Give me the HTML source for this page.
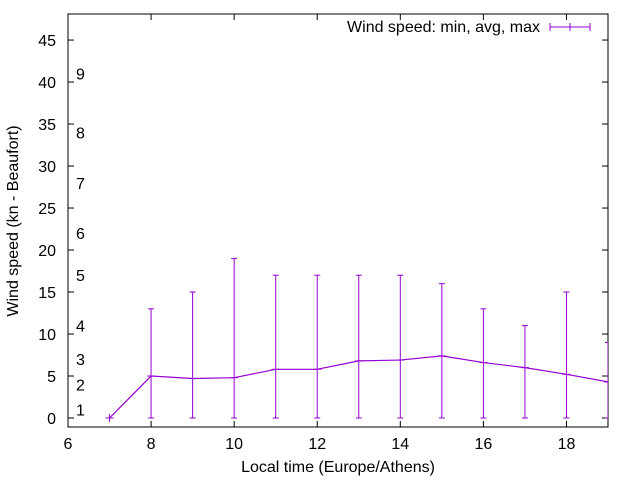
<!DOCTYPE html>
<html><head><meta charset="utf-8"><style>
body{margin:0;background:#fff;}
svg{display:block;font-family:"Liberation Sans",sans-serif;}
</style></head><body>
<svg id="chart" width="640" height="480" viewBox="0 0 640 480" xmlns="http://www.w3.org/2000/svg">
<rect width="640" height="480" fill="#fff"/>
<defs><clipPath id="pc"><rect x="68" y="14" width="540" height="413"/></clipPath></defs>
<g id="axes"></g>
<g id="series" clip-path="url(#pc)"></g>
<text x="18" y="221" font-size="16" text-anchor="middle" transform="rotate(-90 18 221)">Wind speed (kn - Beaufort)</text>
<text x="338" y="472" font-size="16" text-anchor="middle">Local time (Europe/Athens)</text>
<g>
<text x="540" y="32" font-size="16" text-anchor="end">Wind speed: min, avg, max</text>
<line x1="550" y1="27" x2="590" y2="27" stroke="#9400d3" stroke-width="1"/>
<line x1="550" y1="23" x2="550" y2="31" stroke="#9400d3"/>
<line x1="590" y1="23" x2="590" y2="31" stroke="#9400d3"/>
<line x1="570" y1="23" x2="570" y2="31" stroke="#9400d3"/>
</g>
</svg>
<script>
const hours=[7,8,9,10,11,12,13,14,15,16,17,18,19];
const avgSpeed=[0,5,4.7,4.8,5.8,5.8,6.8,6.9,7.4,6.6,6,5.2,4.3];
const minSpeed=[0,0,0,0,0,0,0,0,0,0,0,0,0];
const maxSpeed=[0,13,15,19,17,17,17,17,16,13,11,15,9];
const xTicks=[6,8,10,12,14,16,18];
const yTicks=[0,5,10,15,20,25,30,35,40,45];
const beaufortLevels=[1,4,7,11,17,22,28,34,41];
const beaufortLabels=["1","2","3","4","5","6","7","8","9"];

const L=68,R=608,T=14,B=427;
const xMin=6,xMax=19,yMin=-1.07,yMax=48.1;
const X=v=>L+(v-xMin)/(xMax-xMin)*(R-L);
const Y=v=>B-(v-yMin)/(yMax-yMin)*(B-T);
const NS="http://www.w3.org/2000/svg";
function mk(tag,attrs,parent){const e=document.createElementNS(NS,tag);for(const k in attrs)e.setAttribute(k,attrs[k]);parent.appendChild(e);return e;}
const ax=document.getElementById('axes');
const se=document.getElementById('series');

yTicks.forEach(v=>{
  const y=Y(v);
  const t=mk('line',{x1:L,y1:y,x2:L+6,y2:y,stroke:'#000'},ax);
  
  
  const t2=mk('line',{x1:R,y1:y,x2:R-6,y2:y,stroke:'#000'},ax);
  
  
  const lb=mk('text',{x:L-12,y:y+6,'font-size':16,'text-anchor':'end'},ax);
  lb.textContent=v;
  
  
});
xTicks.forEach(v=>{
  const x=X(v);
  const t=mk('line',{x1:x,y1:B,x2:x,y2:B-6,stroke:'#000'},ax);
  
  
  const t2=mk('line',{x1:x,y1:T,x2:x,y2:T+6,stroke:'#000'},ax);
  
  
  const lb=mk('text',{x:x,y:B+22,'font-size':16,'text-anchor':'middle'},ax);
  lb.textContent=v;
  
  
});
beaufortLevels.forEach((v,i)=>{
  const lb=mk('text',{x:76,y:Y(v)+6,'font-size':16},ax);
  lb.textContent=beaufortLabels[i];
  
  
});
const frame=mk('rect',{x:L,y:T,width:R-L,height:B-T,fill:'none',stroke:'#000'},ax);



const C='#9400d3';
let d='';
hours.forEach((h,i)=>{d+=(i?'L':'M')+X(h)+' '+Y(avgSpeed[i]);});
const ln=mk('path',{d:d,fill:'none',stroke:C,'stroke-width':1.2},se);


hours.forEach((h,i)=>{
  const x=X(h);
  const g=mk('g',{},se);
  
  
  mk('line',{x1:x,y1:Y(minSpeed[i]),x2:x,y2:Y(maxSpeed[i]),stroke:C},g);
  mk('line',{x1:x-3,y1:Y(minSpeed[i]),x2:x+3,y2:Y(minSpeed[i]),stroke:C},g);
  mk('line',{x1:x-3,y1:Y(maxSpeed[i]),x2:x+3,y2:Y(maxSpeed[i]),stroke:C},g);
  mk('line',{x1:x-4,y1:Y(avgSpeed[i]),x2:x+4,y2:Y(avgSpeed[i]),stroke:C},g);
  if(maxSpeed[i]===minSpeed[i]){
    mk('line',{x1:x,y1:Y(avgSpeed[i])-4,x2:x,y2:Y(avgSpeed[i])+4,stroke:C},g);
  }
});
</script>
</body></html>
